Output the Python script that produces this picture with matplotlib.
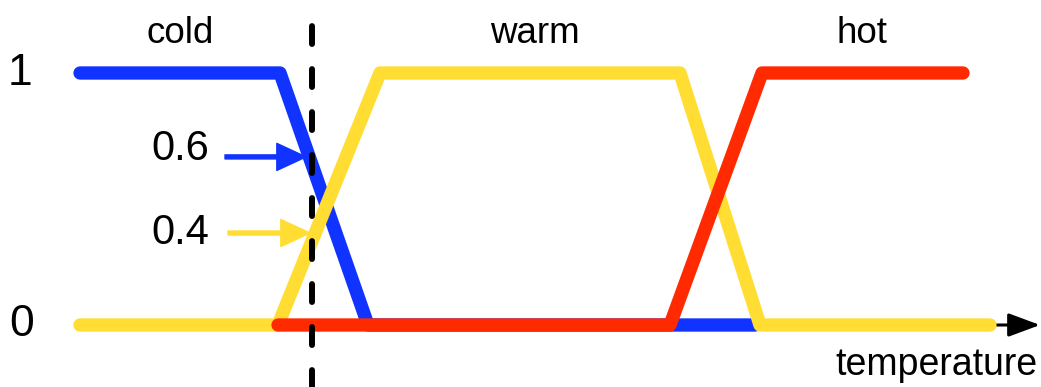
import matplotlib
matplotlib.use("Agg")
import matplotlib.pyplot as plt

plt.rcParams['font.family'] = ['Liberation Sans', 'DejaVu Sans']

# membership functions (x in temperature units, y = membership degree)
cold_x = [80, 280, 368, 755]
cold_y = [1, 1, 0, 0]
warm_x = [80, 278, 380, 680, 760, 990]
warm_y = [0, 0, 1, 1, 0, 0]
hot_x = [278, 670, 762, 963]
hot_y = [0, 0, 1, 1]

labels = ['cold', 'warm', 'hot']
label_x = [180, 535, 862]

t_input = 312
cold_value = 0.6
warm_value = 0.4
mark_y = [0.667, 0.365]   # where the arrows hit the curves

blue = '#1133ff'
yellow = '#ffdd33'
red = '#ff2a00'

fig = plt.figure(figsize=(10.41, 3.87), dpi=100)
ax = fig.add_axes([0, 0, 1, 1])
ax.set_xlim(0, 1041)
ax.set_ylim(-62 / 252, 325 / 252)
ax.axis('off')

lw = 9.6
ax.plot(cold_x, cold_y, color=blue, lw=lw, solid_capstyle='round', solid_joinstyle='round', zorder=2)
ax.plot(warm_x, warm_y, color=yellow, lw=lw, solid_capstyle='round', solid_joinstyle='round', zorder=3)
ax.plot(hot_x, hot_y, color=red, lw=lw, solid_capstyle='round', solid_joinstyle='round', zorder=4)

# input line
ax.plot([t_input, t_input], [-0.25, 1.222], color='black', lw=4.3,
        ls=(0, (3, 4.2)), dash_capstyle='round', zorder=5)

# x axis arrow
ax.annotate('', xy=(1040, 0), xytext=(990, 0),
            arrowprops=dict(arrowstyle='-|>,head_length=0.97,head_width=0.36',
                            color='black', lw=2.2, shrinkA=0, shrinkB=0,
                            mutation_scale=20), zorder=1)
ax.text(1037, -0.16, 'temperature', fontsize=27, ha='right', va='center')

# y labels
ax.text(20, 1, '1', fontsize=32, ha='center', va='center')
ax.text(22, 0, '0', fontsize=32, ha='center', va='center')

for name, lx in zip(labels, label_x):
    ax.text(lx, 1.156, name, fontsize=26.5, ha='center', va='center')

# value arrows
ax.annotate('', xy=(306, mark_y[0]), xytext=(225, mark_y[0]),
            arrowprops=dict(width=2.9, headwidth=19.5, headlength=21, color=blue, shrink=0),
            zorder=6)
ax.annotate('', xy=(310, mark_y[1]), xytext=(228, mark_y[1]),
            arrowprops=dict(width=2.9, headwidth=19.5, headlength=21, color=yellow, shrink=0),
            zorder=6)
ax.text(180, 0.70, str(cold_value), fontsize=30, ha='center', va='center')
ax.text(180, 0.365, str(warm_value), fontsize=30, ha='center', va='center')

fig.savefig('out.png', dpi=100)
